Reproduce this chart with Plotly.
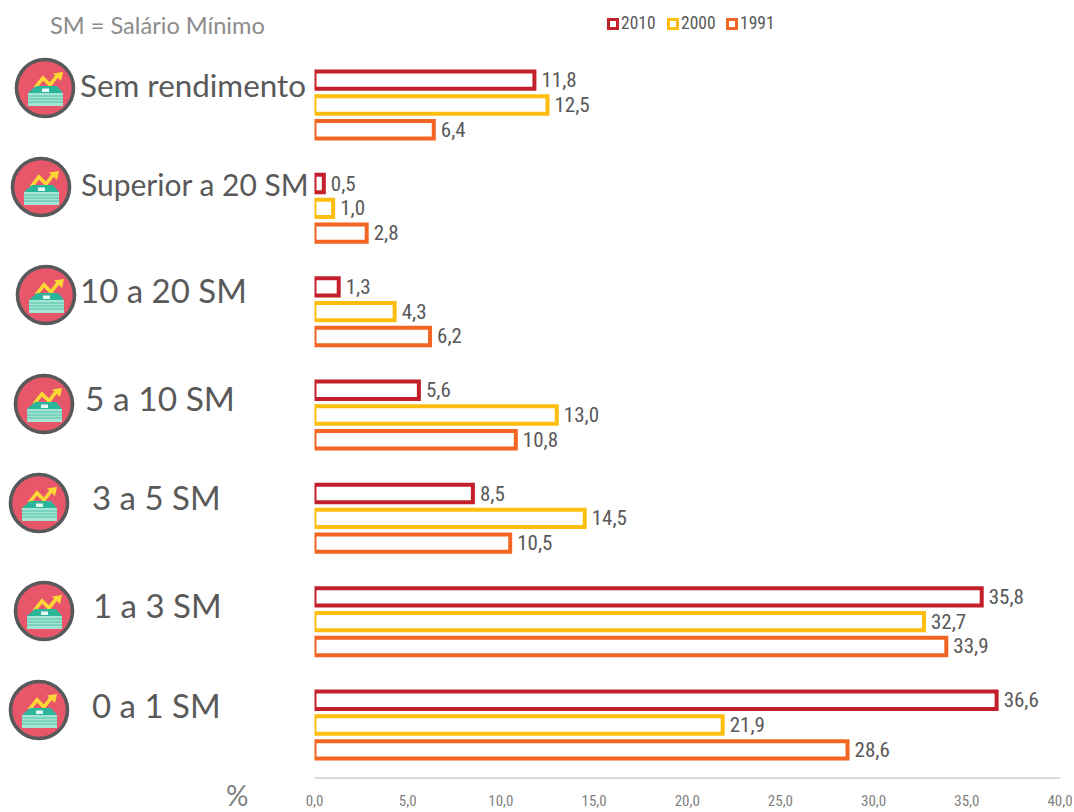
import plotly.graph_objects as go

W, H = 1074, 812

categories = ["Sem rendimento", "Superior a 20 SM", "10 a 20 SM", "5 a 10 SM",
              "3 a 5 SM", "1 a 3 SM", "0 a 1 SM"]
values_2010 = [11.8, 0.5, 1.3, 5.6, 8.5, 35.8, 36.6]
values_2000 = [12.5, 1.0, 4.3, 13.0, 14.5, 32.7, 21.9]
values_1991 = [6.4, 2.8, 6.2, 10.8, 10.5, 33.9, 28.6]
series_names = ["2010", "2000", "1991"]
series_colors = ["#C4202B", "#FDBE10", "#F26522"]
tick_values = [0, 5, 10, 15, 20, 25, 30, 35, 40]

label_font = "Lato, 'Open Sans', sans-serif"
narrow_font = "'Roboto Condensed', 'Liberation Sans', sans-serif"
TEXT = "#595959"


def fx(px):
    return px / W


def fy(py):
    return 1 - py / H


def pct(v):
    return "\u2009" + f"{v:.1f}".replace(".", ",")


fig = go.Figure()
for name, color, vals in zip(series_names, series_colors,
                             [values_2010, values_2000, values_1991]):
    fig.add_trace(go.Bar(
        y=categories, x=vals, name=name, orientation="h",
        marker=dict(color="white", line=dict(color=color, width=4)),
        text=[pct(v) for v in vals], textposition="outside",
        constraintext="none",
        textfont=dict(family=narrow_font, size=21, color=TEXT),
        cliponaxis=False, showlegend=False,
    ))

shapes = []


def icon_path(cx, cy, d, **style):
    """Adds a path given in pixels relative to an icon centre (y pointing up)."""
    shapes.append(dict(type="path", xref="paper", yref="paper",
                       xsizemode="pixel", ysizemode="pixel",
                       xanchor=fx(cx), yanchor=fy(cy), path=d, **style))


def money_icon(cx, cy):
    # Badge
    shapes.append(dict(type="circle", xref="paper", yref="paper",
                       x0=fx(cx - 28.5), x1=fx(cx + 28.5),
                       y0=fy(cy + 28.5), y1=fy(cy - 28.5),
                       fillcolor="#E8566A", line=dict(color="#58595B", width=3.6)))
    # Rising arrow
    icon_path(cx, cy, "M-10,0 L-2,10 L5,3 L12,12", fillcolor="rgba(0,0,0,0)",
              line=dict(color="#FDD835", width=3.6))
    icon_path(cx, cy, "M8,14.5 L18,16 L16,7 Z", fillcolor="#FDD835",
              line=dict(width=0))
    # Stack of banknotes
    icon_path(cx, cy, "M-9,2 L12,2 L18,-5 L-17,-5 Z", fillcolor="#2BB59A",
              line=dict(width=0))
    icon_path(cx, cy, "M-17,-5 L18,-5 L18,-18 L-17,-18 Z", fillcolor="#A5E3D2",
              line=dict(width=0))
    for dy in (-8, -11, -14):
        icon_path(cx, cy, f"M-17,{dy} L18,{dy}", line=dict(color="#4CC2A8", width=1))
    icon_path(cx, cy, "M-3,-0.5 L4,-0.5 L4,-4 L-3,-4 Z", fillcolor="#E8F6F2",
              line=dict(width=0))


icon_centers = [(45, 88), (41, 187), (46, 295), (44, 404), (39, 503), (44, 611), (39, 710)]
for cx, cy in icon_centers:
    money_icon(cx, cy)

annotations = []


def text_at(x, y, s, size, color=TEXT, family=label_font, anchor="left"):
    annotations.append(dict(xref="paper", yref="paper", x=fx(x), y=fy(y),
                            text=s, showarrow=False, xanchor=anchor, yanchor="middle",
                            borderpad=0,
                            font=dict(family=family, size=size, color=color)))


# Category captions sit beside each badge
caption_x = [79, 80, 79, 84, 91, 92, 91]
caption_y = [85, 184, 290, 398, 497, 605, 705]
caption_size = [31.4, 30, 33, 33.5, 33, 33, 33]
for cat, x, y, size in zip(categories, caption_x, caption_y, caption_size):
    text_at(x, y, cat, size)

text_at(49, 25, "SM = Salário Mínimo", 23.6, color="#8C8C8C")
text_at(225, 795, "%", 28, color="#7F7F7F")

# Compact key along the top edge
key_x = [607, 667, 726]
for name, color, x in zip(series_names, series_colors, key_x):
    shapes.append(dict(type="rect", xref="paper", yref="paper",
                       x0=fx(x + 1.5), x1=fx(x + 10.5), y0=fy(28.5), y1=fy(19.5),
                       fillcolor="white", line=dict(color=color, width=3)))
    text_at(x + 13, 23, name, 17.5, family=narrow_font)

fig.update_layout(
    width=W, height=H,
    margin=dict(l=0, r=0, t=0, b=0, autoexpand=False),
    paper_bgcolor="white", plot_bgcolor="white",
    barmode="group", bargap=0.28, bargroupgap=0.3,
    separators=",.",
    showlegend=False,
    shapes=shapes, annotations=annotations,
    xaxis=dict(domain=[fx(314.5), fx(1060)], range=[0, 40], automargin=False,
               tickvals=tick_values, tickformat=".1f",
               showgrid=False, zeroline=False,
               showline=True, linecolor="#D9D9D9", linewidth=1.5,
               ticks="outside", ticklen=10, tickcolor="rgba(0,0,0,0)",
               tickfont=dict(family=narrow_font, size=15, color="#7F7F7F")),
    yaxis=dict(domain=[fy(776.7), fy(53.3)], autorange="reversed", automargin=False,
               showticklabels=False, showgrid=False, zeroline=False,
               showline=False, ticks=""),
)

fig.write_html("out.html")
